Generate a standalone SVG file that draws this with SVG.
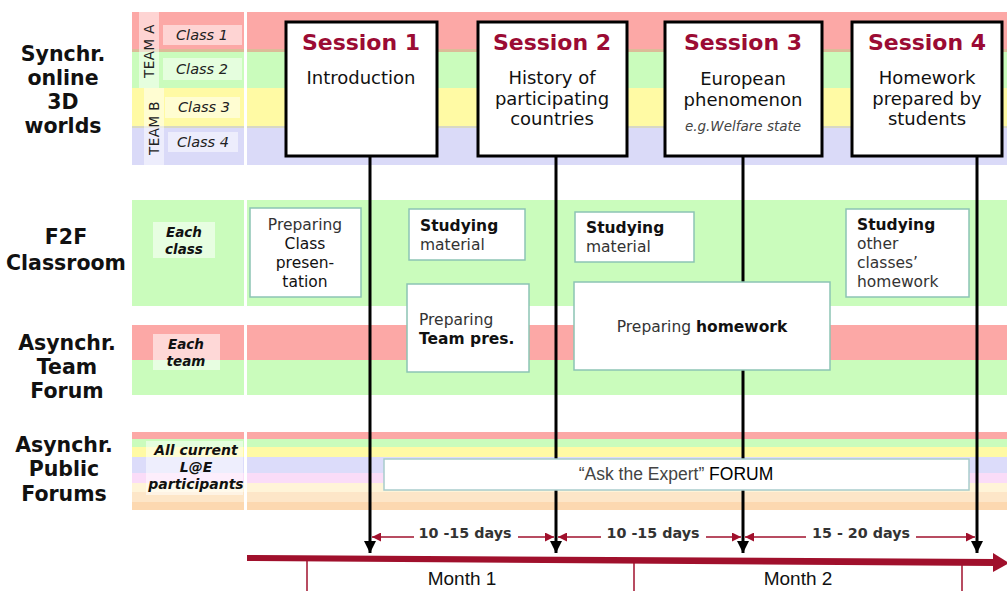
<svg xmlns="http://www.w3.org/2000/svg" width="1007" height="591" viewBox="0 0 1007 591">
  <style>
    .lbl { font-family: "DejaVu Sans", Verdana, sans-serif; font-weight: bold; font-size: 20.5px; fill: #111; text-anchor: middle; }
    .tag { font-family: "DejaVu Sans", Verdana, sans-serif; font-style: italic; font-size: 14.5px; fill: #222; text-anchor: middle; }
    .tagb { font-family: "DejaVu Sans", Verdana, sans-serif; font-style: italic; font-weight: bold; font-size: 14px; fill: #111; text-anchor: middle; }
    .team { font-family: "DejaVu Sans", Verdana, sans-serif; font-size: 13.5px; fill: #222; text-anchor: middle; letter-spacing: 0.5px; }
    .sbox { fill: #fff; stroke: #000; stroke-width: 3; }
    .stitle { font-family: "DejaVu Sans", Verdana, sans-serif; font-weight: bold; font-size: 22px; fill: #9b0b34; text-anchor: middle; }
    .stext { font-family: "DejaVu Sans", Verdana, sans-serif; font-size: 18px; fill: #111; text-anchor: middle; }
    .snote { font-family: "DejaVu Sans", Verdana, sans-serif; font-style: italic; font-size: 13.5px; fill: #444; text-anchor: middle; }
    .abox { fill: #fff; stroke: #8cc4b4; stroke-width: 1.5; }
    .atext { font-family: "DejaVu Sans", Verdana, sans-serif; font-size: 15.5px; fill: #333; }
    .atext .b { font-weight: bold; fill: #111; }
    .atext .k { fill: #111; }
    .vline { stroke: #000; stroke-width: 3; fill: none; }
    .gap { stroke: #a0102c; stroke-width: 1.3; fill: none; }
    .days { font-family: "DejaVu Sans", Verdana, sans-serif; font-weight: bold; font-size: 14.3px; fill: #333; text-anchor: middle; }
    .month { font-family: "Liberation Sans", Arial, sans-serif; font-size: 19px; fill: #111; text-anchor: middle; }
    .tick { stroke: #a0102c; stroke-width: 1.5; }
    .fore { font-family: "Liberation Sans", Arial, sans-serif; font-size: 17.5px; fill: #444; text-anchor: middle; }
  </style>
  <defs>
    <marker id="blackHead" viewBox="0 0 10 10" refX="10" refY="5" markerWidth="12" markerHeight="12" markerUnits="userSpaceOnUse" orient="auto">
      <path d="M0,0 L10,5 L0,10 z" fill="#000"/>
    </marker>
    <marker id="redHead" viewBox="0 0 10 10" refX="10" refY="5" markerWidth="9" markerHeight="9" markerUnits="userSpaceOnUse" orient="auto">
      <path d="M0,0 L10,5 L0,10 z" fill="#a0102c"/>
    </marker>
  </defs>

  <rect width="1007" height="591" fill="#fff"/>

  <!-- Row labels -->
  <g id="row-labels">
    <text class="lbl" x="63" y="61">Synchr.</text>
    <text class="lbl" x="63" y="85">online</text>
    <text class="lbl" x="63" y="109">3D</text>
    <text class="lbl" x="63" y="133">worlds</text>
    <text class="lbl" x="66" y="244">F2F</text>
    <text class="lbl" x="66" y="270">Classroom</text>
    <text class="lbl" x="67" y="350">Asynchr.</text>
    <text class="lbl" x="67" y="374">Team</text>
    <text class="lbl" x="67" y="398">Forum</text>
    <text class="lbl" x="64" y="452">Asynchr.</text>
    <text class="lbl" x="64" y="476">Public</text>
    <text class="lbl" x="64" y="501">Forums</text>
  </g>

  <!-- Synchronous 3D worlds band -->
  <g id="band-synchr">
    <rect x="132" y="12" width="875" height="38" fill="#fca8a6"/>
    <rect x="132" y="49" width="875" height="3" fill="#dcbc98"/>
    <rect x="132" y="52" width="875" height="36" fill="#cafcbc"/>
    <rect x="132" y="88" width="875" height="39" fill="#fffaa4"/>
    <rect x="132" y="126" width="875" height="2" fill="#d8d8c4"/>
    <rect x="132" y="128" width="875" height="37" fill="#dadaf8"/>
    <rect x="244" y="12" width="3" height="153" fill="#fff"/>
    <rect x="139" y="12" width="20" height="76" fill="#fff" opacity="0.5"/>
    <rect x="144" y="88" width="20" height="77" fill="#fff" opacity="0.5"/>
    <text class="team" transform="translate(153.5,51) rotate(-90)">TEAM A</text>
    <text class="team" transform="translate(158.5,128) rotate(-90)">TEAM B</text>
    <rect x="163" y="25" width="79" height="20" fill="#fff" opacity="0.5"/>
    <rect x="163" y="58" width="79" height="22" fill="#fff" opacity="0.5"/>
    <rect x="165" y="97" width="75" height="21" fill="#fff" opacity="0.5"/>
    <rect x="168" y="132" width="70" height="20" fill="#fff" opacity="0.5"/>
    <text class="tag" x="202" y="40">Class 1</text>
    <text class="tag" x="202" y="74">Class 2</text>
    <text class="tag" x="204" y="112">Class 3</text>
    <text class="tag" x="203" y="147">Class 4</text>
  </g>

  <!-- F2F classroom band -->
  <g id="band-f2f">
    <rect x="132" y="200" width="875" height="106" fill="#cafcbc"/>
    <rect x="244" y="200" width="3" height="106" fill="#fff"/>
    <rect x="153" y="222" width="62" height="36" fill="#fff" opacity="0.55"/>
    <text class="tagb" x="184" y="237" style="font-size:13.5px">Each</text>
    <text class="tagb" x="184" y="254" style="font-size:13.5px">class</text>
  </g>

  <!-- Team forum band -->
  <g id="band-team">
    <rect x="132" y="325" width="875" height="35" fill="#fca8a6"/>
    <rect x="132" y="360" width="875" height="35" fill="#cafcbc"/>
    <rect x="244" y="325" width="3" height="70" fill="#fff"/>
    <rect x="153" y="334" width="67" height="36" fill="#fff" opacity="0.55"/>
    <text class="tagb" x="186" y="349" style="font-size:13.5px">Each</text>
    <text class="tagb" x="186" y="366" style="font-size:13.5px">team</text>
  </g>

  <!-- Public forums band -->
  <g id="band-public">
    <rect x="132" y="432" width="875" height="7" fill="#fca8a6"/>
    <rect x="132" y="439" width="875" height="8" fill="#cafcbc"/>
    <rect x="132" y="447" width="875" height="10" fill="#fffaa4"/>
    <rect x="132" y="457" width="875" height="16" fill="#dcdcfa"/>
    <rect x="132" y="473" width="875" height="10" fill="#fadcf8"/>
    <rect x="132" y="483" width="875" height="9" fill="#fff4d8"/>
    <rect x="132" y="492" width="875" height="10" fill="#fde6c8"/>
    <rect x="132" y="502" width="875" height="8" fill="#fcd8b0"/>
    <rect x="244" y="432" width="3" height="78" fill="#fff"/>
    <rect x="146" y="441" width="97" height="54" fill="#fff" opacity="0.5"/>
    <text class="tagb" x="196" y="455">All current</text>
    <text class="tagb" x="196" y="472">L@E</text>
    <text class="tagb" x="196" y="489">participants</text>
  </g>

  <!-- Connectors: session lines, interval arrows, time axis -->
  <g id="connectors">
    <line class="vline" x1="370" y1="156" x2="370" y2="553" marker-end="url(#blackHead)"/>
    <line class="vline" x1="556" y1="156" x2="556" y2="553" marker-end="url(#blackHead)"/>
    <line class="vline" x1="743" y1="156" x2="743" y2="553" marker-end="url(#blackHead)"/>
    <line class="vline" x1="977" y1="156" x2="977" y2="553" marker-end="url(#blackHead)"/>

    <line class="gap" x1="414" y1="537" x2="372" y2="537" marker-end="url(#redHead)"/>
    <line class="gap" x1="518" y1="537" x2="554" y2="537" marker-end="url(#redHead)"/>
    <line class="gap" x1="601" y1="537" x2="558" y2="537" marker-end="url(#redHead)"/>
    <line class="gap" x1="706" y1="537" x2="741" y2="537" marker-end="url(#redHead)"/>
    <line class="gap" x1="806" y1="537" x2="745" y2="537" marker-end="url(#redHead)"/>
    <line class="gap" x1="916" y1="537" x2="975" y2="537" marker-end="url(#redHead)"/>

    <path d="M247,555 L247,561 L996,566 L996,559 Z" fill="#a0102c"/>
    <polygon points="993,553 1009,563 993,572" fill="#a0102c"/>
    <line class="tick" x1="307" y1="561" x2="307" y2="591"/>
    <line class="tick" x1="634" y1="563" x2="634" y2="591"/>
    <line class="tick" x1="962" y1="565" x2="962" y2="591"/>
  </g>

  <!-- Interval and month labels -->
  <g id="time-labels">
    <text class="days" x="465" y="538">10 -15 days</text>
    <text class="days" x="653" y="538">10 -15 days</text>
    <text class="days" x="861" y="538">15 - 20 days</text>
    <text class="month" x="462" y="585">Month 1</text>
    <text class="month" x="798" y="585">Month 2</text>
  </g>

  <!-- Sessions -->
  <g id="session-1">
    <rect class="sbox" x="286" y="22" width="151" height="134"/>
    <text class="stitle" x="361" y="50">Session 1</text>
    <text class="stext" x="361" y="84">Introduction</text>
  </g>
  <g id="session-2">
    <rect class="sbox" x="478" y="22" width="149" height="134"/>
    <text class="stitle" x="552" y="50">Session 2</text>
    <text class="stext" x="552" y="84">History of</text>
    <text class="stext" x="552" y="105">participating</text>
    <text class="stext" x="552" y="125">countries</text>
  </g>
  <g id="session-3">
    <rect class="sbox" x="665" y="22" width="157" height="134"/>
    <text class="stitle" x="743" y="50">Session 3</text>
    <text class="stext" x="743" y="85">European</text>
    <text class="stext" x="743" y="106">phenomenon</text>
    <text class="snote" x="743" y="131">e.g.Welfare state</text>
  </g>
  <g id="session-4">
    <rect class="sbox" x="852" y="22" width="150" height="134"/>
    <text class="stitle" x="927" y="50">Session 4</text>
    <text class="stext" x="927" y="84">Homework</text>
    <text class="stext" x="927" y="105">prepared by</text>
    <text class="stext" x="927" y="125">students</text>
  </g>

  <!-- Activities -->
  <g id="prep-class">
    <rect class="abox" x="250" y="208" width="111" height="89"/>
    <text class="atext" x="305" y="230" text-anchor="middle">Preparing</text>
    <text class="atext" x="305" y="249" text-anchor="middle"><tspan class="k">Class</tspan></text>
    <text class="atext" x="305" y="268" text-anchor="middle"><tspan class="k">presen-</tspan></text>
    <text class="atext" x="305" y="287" text-anchor="middle"><tspan class="k">tation</tspan></text>
  </g>
  <g id="study-1">
    <rect class="abox" x="409" y="209" width="116" height="51"/>
    <text class="atext" x="420" y="231"><tspan class="b">Studying</tspan></text>
    <text class="atext" x="420" y="250">material</text>
  </g>
  <g id="prep-team">
    <rect class="abox" x="407" y="284" width="122" height="88"/>
    <text class="atext" x="419" y="325">Preparing</text>
    <text class="atext" x="419" y="344"><tspan class="b">Team pres.</tspan></text>
  </g>
  <g id="study-2">
    <rect class="abox" x="575" y="212" width="119" height="50"/>
    <text class="atext" x="586" y="233"><tspan class="b">Studying</tspan></text>
    <text class="atext" x="586" y="252">material</text>
  </g>
  <g id="prep-homework">
    <rect class="abox" x="574" y="282" width="256" height="88"/>
    <text class="atext" x="702" y="332" text-anchor="middle">Preparing <tspan class="b">homework</tspan></text>
  </g>
  <g id="study-homework">
    <rect class="abox" x="846" y="209" width="123" height="88"/>
    <text class="atext" x="857" y="230"><tspan class="b">Studying</tspan></text>
    <text class="atext" x="857" y="249">other</text>
    <text class="atext" x="857" y="268">classes’</text>
    <text class="atext" x="857" y="287">homework</text>
  </g>
  <g id="expert-forum">
    <rect x="384" y="459" width="585" height="31" fill="#fff" stroke="#a8cccc" stroke-width="1.5"/>
    <text class="fore" x="676" y="480">“Ask the Expert” <tspan fill="#000">FORUM</tspan></text>
  </g>
</svg>
